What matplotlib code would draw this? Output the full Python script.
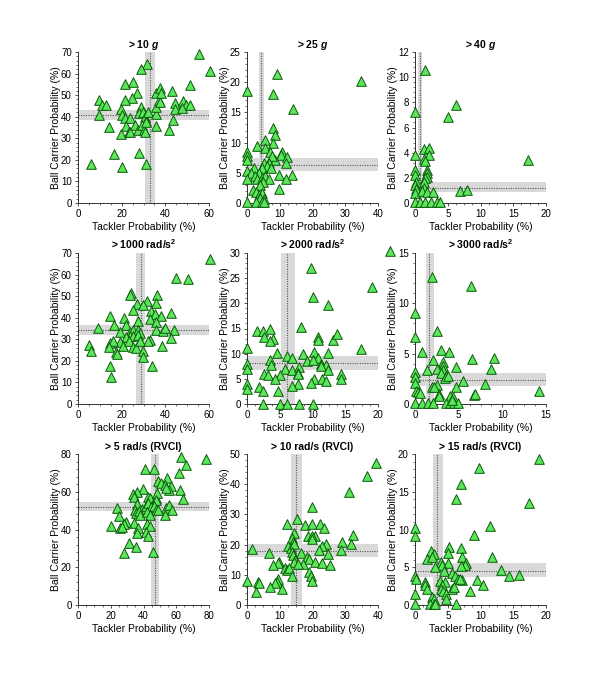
import numpy as np
import matplotlib
matplotlib.use('Agg')
import matplotlib.pyplot as plt
from matplotlib.ticker import AutoMinorLocator

plt.rcParams['font.family'] = ['Liberation Sans', 'DejaVu Sans']
plt.rcParams['mathtext.fontset'] = 'custom'
plt.rcParams['mathtext.rm'] = 'Liberation Sans'
plt.rcParams['mathtext.it'] = 'Liberation Sans:italic'
plt.rcParams['mathtext.bf'] = 'Liberation Sans:bold'
plt.rcParams['mathtext.bfit'] = 'Liberation Sans:italic:bold'

# ---- data (tackler %, ball carrier %) ----
titles = [r'> 10 $\mathbfit{g}$', r'> 25 $\mathbfit{g}$', r'> 40 $\mathbfit{g}$',
          r'> 1000 rad/s$^\mathbf{2}$', r'> 2000 rad/s$^\mathbf{2}$', r'> 3000 rad/s$^\mathbf{2}$',
          '> 5 rad/s (RVCI)', '> 10 rad/s (RVCI)', '> 15 rad/s (RVCI)']

x_max = [60, 40, 20, 60, 20, 15, 80, 40, 20]
y_max = [70, 25, 12, 70, 30, 15, 80, 50, 20]
x_step = [20, 10, 5, 20, 5, 5, 20, 10, 5]
y_step = [10, 5, 2, 10, 5, 5, 20, 10, 5]

# median and band (low, mid, high)
tackler_ci = [(30.5, 32.8, 35.1), (3.6, 4.4, 5.3), (0.5, 0.76, 1.0),
              (26.5, 28.8, 30.9), (5.2, 6.1, 7.4), (1.3, 1.63, 2.2),
              (44.8, 47.2, 49.5), (13.3, 15.0, 16.8), (2.8, 3.4, 4.3)]
carrier_ci = [(38.5, 40.8, 43.1), (5.3, 6.25, 7.5), (0.85, 1.2, 1.67),
              (32.1, 34.4, 36.4), (6.8, 8.2, 9.5), (1.8, 2.4, 3.05),
              (49.8, 52.1, 54.7), (16.0, 18.0, 20.2), (3.7, 4.5, 5.5)]

tackler_10g = [55.4, 60.3, 31.6, 29.0, 21.4, 25.2, 27.2, 24.9, 21.4, 9.6, 11.1, 13.0, 9.6, 14.2,
               19.8, 20.3, 21.4, 24.0, 19.8, 21.8, 23.4, 24.0, 26.0, 27.5, 29.0, 27.9, 29.8, 30.5,
               31.0, 29.5, 30.2, 31.3, 32.1, 30.5, 35.6, 35.9, 35.9, 35.6, 37.4, 37.1, 37.7, 38.2,
               43.2, 44.3, 44.6, 43.5, 41.7, 48.1, 49.3, 51.5, 51.5, 47.8, 5.8, 16.3, 20.3, 27.8, 31.0]
carrier_10g = [69.2, 61.0, 64.4, 62.1, 55.1, 56.3, 50.9, 48.9, 47.8, 47.6, 45.5, 45.5, 40.8, 35.4,
               43.6, 40.8, 39.3, 39.6, 32.0, 35.9, 33.1, 32.7, 36.2, 33.8, 44.7, 41.6, 42.4, 40.0,
               38.0, 36.2, 33.8, 37.4, 42.1, 33.1, 41.1, 35.9, 44.7, 50.9, 53.2, 47.8, 47.0, 50.9,
               51.7, 46.3, 43.6, 38.5, 33.8, 47.3, 45.2, 45.5, 54.8, 44.2, 18.3, 22.5, 16.8, 23.0, 18.3]

tackler_25g = [34.7, 9.2, 0, 7.9, 14.0, 7.9, 8.7, 5.6, 3.1, 7.9, 5.6, 0, 0, 0, 7.1, 10.7, 10.5, 12.2,
               11.9, 8.7, 7.6, 6.6, 5.1, 6.1, 7.4, 4.6, 2.0, 0, 3.6, 1.3, 2.3, 0, 3.1, 4.6, 5.6, 6.6,
               4.8, 4.1, 9.9, 13.6, 11.9, 9.7, 1.7, 2.6, 3.8, 4.6, 4.1, 5.1, 0, 2.8, 4.6, 5.3]
carrier_25g = [20.2, 21.3, 18.5, 18.0, 15.5, 12.4, 11.2, 10.4, 9.5, 10.0, 9.1, 8.4, 7.7, 7.1, 8.4,
               8.4, 8.0, 7.6, 6.6, 7.2, 7.7, 6.7, 6.7, 6.1, 5.8, 5.8, 5.8, 5.3, 5.0, 4.9, 4.4, 3.9,
               3.9, 4.1, 4.4, 3.9, 3.4, 3.0, 4.7, 4.7, 3.9, 2.3, 2.2, 1.8, 1.4, 1.7, 0.8, 0.6, 0.1,
               0.1, 0.1, 0.1]

tackler_40g = [1.6, 6.3, 5.0, 0, 17.3, 0, 1.3, 2.2, 2.1, 1.4, 1.5, 0, 1.8, 1.8, 1.9, 1.6, 1.4, 0,
               0.1, 0, 0.1, 0, 1.3, 1.0, 1.8, 2.8, 6.9, 8.0, 0, 0.75, 1.5, 2.4, 3.4, 3.8]
carrier_40g = [10.6, 7.75, 6.8, 7.2, 3.4, 3.85, 4.3, 4.4, 3.85, 3.5, 3.3, 2.6, 2.65, 2.4, 2.1, 2.0,
               1.7, 2.2, 1.7, 1.46, 1.1, 0.8, 1.2, 0.93, 0.85, 0.85, 0.93, 1.06, 0.05, 0.05, 0.05,
               0.05, 0.05, 0.05]

tackler_1000 = [60.5, 44.7, 50.5, 24.5, 23.7, 36.3, 26.8, 31.7, 35.7, 29.8, 25.3, 14.5, 21.1, 33.6,
                35.2, 38.0, 42.8, 32.9, 35.9, 27.6, 16.5, 22.2, 9.2, 19.1, 23.7, 25.3, 27.6, 28.6,
                23.7, 25.3, 27.6, 35.7, 39.0, 39.8, 44.1, 32.9, 32.1, 42.8, 21.9, 19.1, 14.5, 16.2,
                20.7, 14.2, 23.4, 25.3, 26.5, 28.3, 29.8, 38.7, 5.1, 6.1, 17.3, 17.9, 29.8, 34.1,
                14.5, 15.3]
carrier_1000 = [67.1, 58.5, 58.1, 51.4, 50.6, 50.6, 46.5, 47.7, 46.8, 45.7, 43.4, 40.6, 40.0, 43.1,
                41.5, 41.0, 42.3, 39.5, 37.9, 38.3, 36.4, 36.4, 35.3, 33.3, 33.3, 34.1, 34.4, 32.8,
                31.7, 31.7, 32.2, 34.4, 33.8, 35.3, 34.1, 29.7, 29.4, 30.5, 31.0, 28.7, 28.2, 29.4,
                27.1, 26.6, 29.4, 26.6, 26.0, 29.1, 24.8, 27.1, 27.4, 24.8, 24.3, 23.2, 21.7, 17.8,
                17.8, 12.7]

tackler_2000 = [21.9, 9.7, 19.1, 10.1, 12.4, 8.2, 3.5, 1.5, 2.5, 2.6, 3.9, 3.5, 10.9, 10.8, 13.1,
                13.7, 17.4, 0, 4.6, 8.6, 10.3, 12.4, 10.8, 3.5, 6.1, 6.8, 9.1, 10.0, 11.3, 12.0, 0,
                0, 3.7, 5.8, 6.8, 7.9, 11.3, 7.8, 7.8, 12.4, 2.6, 3.2, 5.0, 4.3, 10.2, 9.7, 11.4,
                12.1, 14.3, 14.3, 7.8, 6.8, 0, 0, 1.8, 2.5, 4.8, 2.4, 5.0, 6.1, 7.9, 10.0]
carrier_2000 = [30.3, 27.0, 23.3, 21.3, 19.7, 15.3, 15.0, 14.5, 14.5, 13.3, 13.0, 12.5, 13.3, 12.8,
                12.7, 13.9, 11.0, 11.2, 10.1, 9.9, 10.3, 10.1, 9.2, 8.8, 9.5, 9.2, 8.5, 8.7, 8.0, 7.7,
                8.0, 7.0, 7.7, 7.0, 6.8, 7.3, 7.5, 6.1, 5.9, 6.8, 5.9, 5.7, 5.7, 5.0, 5.0, 4.1, 5.0,
                4.5, 5.9, 5.0, 4.0, 3.5, 4.0, 3.0, 3.3, 2.5, 2.5, 0, 0, 0, 0, 0]

tackler_3000 = [2.0, 6.4, 0, 2.5, 0, 0.8, 3.0, 3.9, 2.1, 6.5, 9.0, 3.2, 3.2, 4.7, 1.4, 2.5, 3.2, 8.7,
                0, 0, 3.0, 3.6, 3.4, 3.8, 5.5, 0, 2.5, 1.9, 2.2, 4.7, 8.0, 0.1, 0.4, 0.6, 2.7, 2.8,
                4.0, 4.4, 6.7, 6.9, 14.2, 0, 0.8, 1.5, 2.1, 3.6, 4.0, 4.5, 4.9, 4.2]
carrier_3000 = [12.6, 11.7, 9.0, 7.3, 6.7, 5.2, 5.4, 5.2, 4.4, 4.5, 4.6, 4.2, 3.8, 3.7, 3.4, 3.5, 3.4,
                3.5, 3.2, 2.7, 3.1, 2.8, 2.6, 2.8, 2.3, 2.1, 1.9, 1.7, 1.7, 1.7, 2.0, 1.3, 1.2, 1.1,
                1.0, 0.8, 0.8, 0.7, 0.9, 1.0, 1.3, 0.05, 0.05, 0.05, 0.05, 0.05, 0.05, 0.05, 0.05, 0.4]

tackler_5rvci = [78.4, 63.1, 65.7, 61.7, 46.2, 40.7, 48.9, 54.2, 50.5, 52.9, 57.0, 55.6, 53.9, 62.5,
                 64.1, 39.7, 36.0, 33.6, 34.0, 42.8, 44.2, 47.4, 48.5, 47.9, 36.0, 39.3, 41.3, 42.8,
                 44.8, 46.2, 47.4, 54.0, 55.4, 57.6, 52.9, 49.0, 23.8, 25.0, 34.6, 35.6, 37.3, 38.1,
                 42.3, 43.7, 34.0, 29.1, 27.9, 20.4, 25.9, 27.1, 42.1, 43.7, 36.6, 36.0, 41.3, 42.8,
                 31.1, 35.2, 27.9, 45.8]
carrier_5rvci = [77.3, 78.6, 74.2, 69.8, 72.1, 72.1, 65.7, 67.1, 64.5, 63.6, 63.2, 60.9, 61.8, 60.9,
                 56.2, 61.5, 60.0, 58.6, 57.4, 57.4, 56.5, 56.5, 59.2, 55.6, 53.3, 50.9, 52.6, 53.9,
                 52.1, 52.6, 50.3, 51.6, 53.0, 50.3, 47.7, 50.3, 51.2, 47.2, 50.3, 48.6, 49.8, 47.7,
                 49.4, 47.7, 43.3, 44.1, 42.7, 42.0, 40.6, 41.5, 42.7, 42.0, 41.0, 38.0, 38.5, 36.7,
                 32.7, 30.9, 27.4, 27.9]

tackler_10rvci = [39.5, 36.7, 31.1, 19.7, 15.3, 12.2, 17.8, 19.8, 22.4, 23.5, 14.3, 18.7, 20.7, 19.7,
                  32.4, 13.8, 19.9, 29.1, 31.9, 24.0, 23.0, 13.9, 12.6, 13.3, 14.3, 1.5, 22.1, 28.6,
                  13.6, 13.9, 6.8, 16.6, 24.8, 18.4, 18.9, 14.6, 14.3, 20.7, 23.0, 25.2, 9.9, 9.5,
                  7.9, 17.1, 15.6, 11.6, 12.2, 12.9, 13.6, 18.9, 19.4, 19.9, 9.5, 9.2, 8.7, 0, 3.4,
                  3.6, 7.1, 10.7, 2.6]
carrier_10rvci = [47.0, 42.6, 37.3, 32.6, 28.5, 26.8, 26.5, 26.9, 26.9, 25.4, 23.8, 23.0, 23.0, 22.7,
                  23.2, 22.3, 21.9, 21.0, 20.1, 20.1, 19.6, 20.8, 19.7, 18.8, 20.1, 18.6, 18.3, 18.3,
                  17.5, 16.6, 17.1, 17.1, 16.8, 16.0, 15.3, 14.9, 14.4, 14.4, 13.8, 13.1, 14.4, 13.8,
                  13.3, 13.5, 13.5, 12.2, 11.6, 12.2, 9.7, 10.8, 9.7, 8.0, 8.6, 7.7, 7.2, 8.0, 7.7,
                  7.2, 5.8, 5.3, 4.4]

tackler_15rvci = [19.0, 9.8, 7.0, 6.2, 17.4, 11.5, 9.0, 0, 0, 5.2, 7.0, 11.8, 2.5, 2.9, 5.1, 7.1, 1.8,
                  2.6, 3.9, 5.1, 7.8, 7.6, 7.0, 4.1, 3.0, 4.5, 5.6, 13.2, 14.3, 15.9, 6.1, 6.6, 7.1,
                  6.8, 9.5, 10.4, 0, 0.1, 1.6, 1.5, 1.8, 3.8, 4.6, 4.1, 3.9, 4.2, 4.7, 5.7, 5.9, 8.4,
                  0, 2.6, 2.9, 4.8, 0, 2.3, 2.9, 3.1, 6.3]
carrier_15rvci = [19.4, 18.1, 16.0, 14.1, 13.5, 10.4, 9.3, 10.2, 9.1, 7.7, 7.5, 6.4, 7.2, 6.7, 6.9, 6.3,
                  6.1, 6.3, 5.7, 5.5, 5.5, 5.3, 5.2, 5.3, 5.0, 4.5, 4.2, 4.6, 3.8, 4.0, 3.8, 3.5, 3.3,
                  3.5, 3.3, 2.7, 3.8, 3.5, 3.1, 2.7, 2.1, 3.2, 3.1, 2.7, 2.1, 1.8, 1.4, 2.1, 2.4, 1.8,
                  1.4, 1.1, 0.8, 0.8, 0.1, 0.1, 0.1, 0.1, 0.1]

tackler = [tackler_10g, tackler_25g, tackler_40g, tackler_1000, tackler_2000, tackler_3000,
           tackler_5rvci, tackler_10rvci, tackler_15rvci]
carrier = [carrier_10g, carrier_25g, carrier_40g, carrier_1000, carrier_2000, carrier_3000,
           carrier_5rvci, carrier_10rvci, carrier_15rvci]

# ---- figure ----
fig = plt.figure(figsize=(6.04, 6.80), dpi=100)

lefts = [78, 247, 415]
tops = [52, 253, 454]
w_px, h_px = 131, 151

for i in range(9):
    row, col = i // 3, i % 3
    ax = fig.add_axes([lefts[col] / 604, 1 - (tops[row] + h_px) / 680, w_px / 604, h_px / 680])

    tl, tm, th = tackler_ci[i]
    cl, cm, ch = carrier_ci[i]
    ax.axvspan(tl, th, color='#d9d9d9', lw=0, zorder=1)
    ax.axhspan(cl, ch, color='#d9d9d9', lw=0, zorder=1)
    ax.axvline(tm, color='#555555', ls=(0, (1, 1.2)), lw=0.8, zorder=2)
    ax.axhline(cm, color='#555555', ls=(0, (1, 1.2)), lw=0.8, zorder=2)

    ax.scatter(tackler[i], carrier[i], marker='^', s=48, facecolor='#5ce65c',
               edgecolor='#0a5a0a', linewidth=0.7, zorder=3, clip_on=False)

    ax.set_xlim(0, x_max[i])
    ax.set_ylim(0, y_max[i])
    ax.set_xticks(np.arange(0, x_max[i] + 0.01, x_step[i]))
    ax.set_yticks(np.arange(0, y_max[i] + 0.01, y_step[i]))
    ax.xaxis.set_minor_locator(AutoMinorLocator(4))
    ax.yaxis.set_minor_locator(AutoMinorLocator(5))
    ax.tick_params(which='major', labelsize=7, length=2.5, width=0.6, color='#333333', pad=2)
    ax.tick_params(which='minor', length=1.5, width=0.5, color='#333333')

    ax.spines['top'].set_visible(False)
    ax.spines['right'].set_visible(False)
    ax.spines['left'].set_linewidth(0.7)
    ax.spines['bottom'].set_linewidth(0.7)
    ax.spines['left'].set_color('#333333')
    ax.spines['bottom'].set_color('#333333')

    ax.set_title(titles[i], fontsize=7.5, fontweight='bold', pad=3)
    ax.set_xlabel('Tackler Probability (%)', fontsize=7.5, labelpad=2)
    ax.set_ylabel('Ball Carrier Probability (%)', fontsize=7.5, labelpad=0)

fig.savefig('out.png', dpi=100)
